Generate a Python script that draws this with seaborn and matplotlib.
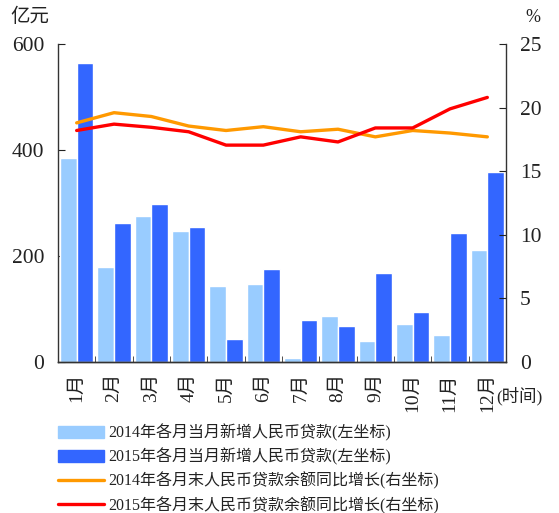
import numpy as np
import pandas as pd
import matplotlib
matplotlib.use("Agg")
import matplotlib.pyplot as plt
import seaborn as sns

months = ["1月", "2月", "3月", "4月", "5月", "6月", "7月", "8月", "9月", "10月", "11月", "12月"]
new_loans_2014 = [385, 179, 275, 247, 143, 147, 7, 87, 40, 72, 51, 211]
new_loans_2015 = [565, 262, 298, 255, 43, 175, 79, 68, 168, 94, 243, 358]
growth_2014 = [18.8, 19.6, 19.3, 18.55, 18.2, 18.5, 18.1, 18.3, 17.7, 18.2, 18.0, 17.7]
growth_2015 = [18.2, 18.7, 18.45, 18.1, 17.05, 17.05, 17.7, 17.3, 18.4, 18.4, 19.9, 20.8]

lab_bar14 = "2014年各月当月新增人民币贷款(左坐标)"
lab_bar15 = "2015年各月当月新增人民币贷款(左坐标)"
lab_line14 = "2014年各月末人民币贷款余额同比增长(右坐标)"
lab_line15 = "2015年各月末人民币贷款余额同比增长(右坐标)"

sns.set_style("white")
plt.rcParams["font.family"] = ["Liberation Serif", "Noto Sans CJK SC"]

df = pd.DataFrame({
    "month": months * 2,
    "value": new_loans_2014 + new_loans_2015,
    "series": [lab_bar14] * 12 + [lab_bar15] * 12,
})

fig = plt.figure(figsize=(5.59, 5.13), dpi=100)
ax = fig.add_axes([58 / 559, 1 - 362 / 513, (506 - 58) / 559, (362 - 44) / 513])

sns.barplot(data=df, x="month", y="value", hue="series", order=months,
            palette=["#99CCFF", "#3366FF"], width=0.9, gap=0, ax=ax,
            saturation=1, legend=False)
ax.set_xlim(-0.5, 11.5)
ax.set_ylim(0, 600)
ax.set_yticks([0, 200, 400, 600])
ax.set_xlabel("")
ax.set_ylabel("")

ax2 = ax.twinx()
x = np.arange(12)
sns.lineplot(x=x, y=growth_2014, color="#FF9900", lw=2.4, ax=ax2)
sns.lineplot(x=x, y=growth_2015, color="#FF0000", lw=2.4, ax=ax2)
ax2.set_ylim(0, 25)
ax2.set_yticks([0, 5, 10, 15, 20, 25])
ax2.set_xlim(-0.5, 11.5)

for a in (ax, ax2):
    a.spines["top"].set_visible(False)
    for s in ("left", "right", "bottom"):
        a.spines[s].set_color("#333333")
        a.spines[s].set_linewidth(1.0)
ax.spines["right"].set_visible(False)
ax2.spines["left"].set_visible(False)

ax.tick_params(axis="y", direction="in", length=5, labelsize=15.5, pad=10, colors="#222222", left=True)
ax2.tick_params(axis="y", direction="in", length=5, labelsize=15.5, pad=10, colors="#222222", right=True)
ax.set_xticks(x)
ax.set_xticklabels(months, rotation=90, fontsize=14, color="#222222")
ax.tick_params(axis="x", which="major", length=0, pad=8)
ax.set_xticks(np.arange(-0.5, 12, 1), minor=True)
ax.tick_params(axis="x", which="minor", direction="in", length=4, bottom=True, color="#333333")

fig.text(10 / 559, 1 - 17 / 513, "亿元", fontsize=14, va="center", ha="left", color="#222222")
fig.text(533 / 559, 1 - 17 / 513, "%", fontsize=13, va="center", ha="center", color="#222222")
fig.text(496 / 559, 1 - 396 / 513, "(时间)", fontsize=12.5, va="center", ha="left", color="#222222")

handles = [
    matplotlib.patches.Patch(color="#99CCFF", label=lab_bar14),
    matplotlib.patches.Patch(color="#3366FF", label=lab_bar15),
    matplotlib.lines.Line2D([], [], color="#FF9900", lw=2.4, label=lab_line14),
    matplotlib.lines.Line2D([], [], color="#FF0000", lw=2.4, label=lab_line15),
]
fig.legend(handles=handles, loc="upper left", bbox_to_anchor=(58 / 559, 1 - 424 / 513),
           frameon=False, fontsize=11.5, handlelength=2.9, handleheight=0.75,
           labelspacing=0.42, handletextpad=0.25, borderpad=0, borderaxespad=0,
           labelcolor="#222222")

fig.savefig("out.png", dpi=100)
